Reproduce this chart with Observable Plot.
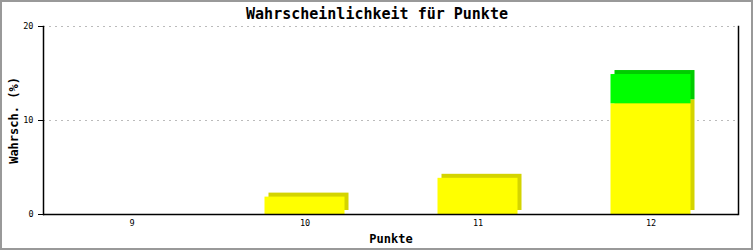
<!DOCTYPE html>
<html>
<head>
<meta charset="utf-8">
<script src="https://cdn.jsdelivr.net/npm/d3@7"></script>
<script src="https://cdn.jsdelivr.net/npm/@observablehq/plot@0.6"></script>
<style>
  html, body { margin: 0; padding: 0; background: #fff; }
  #chart svg { display: block; outline: 2px solid #999; outline-offset: -2px; }
</style>
</head>
<body>
<div id="chart"></div>
<script>
const title = "Wahrscheinlichkeit für Punkte";
const xLabel = "Punkte";
const yLabel = "Wahrsch. (%)";
const categories = ["9", "10", "11", "12"];
const yellowValues = [0, 1.85, 3.85, 11.78];
const greenValues = [0, 0, 0, 3.11];
const yTicks = [0, 10, 20];
const gridTicks = [10, 20];

const data = [];
categories.forEach((k, i) => data.push({k, s: "a", v: yellowValues[i]}));
categories.forEach((k, i) => data.push({k, s: "b", v: greenValues[i]}));

const font = "DejaVu Sans Mono";

const plot = Plot.plot({
  width: 753,
  height: 250,
  marginLeft: 43,
  marginRight: 15,
  marginTop: 26,
  marginBottom: 36,
  style: {fontFamily: font, background: "#fff", color: "#000"},
  x: {domain: categories, padding: 0, label: null},
  y: {domain: [0, 20], label: null},
  color: {type: "identity"},
  marks: [
    Plot.gridY(gridTicks, {stroke: "#bbb", strokeOpacity: 1, strokeDasharray: "2,4"}),
    Plot.barY(data, {x: "k", y: "v", fill: d => d.s === "a" ? "#d4d400" : "#00cc00",
      dx: 4, dy: -4, insetLeft: 46.5, insetRight: 46.5}),
    Plot.barY(data, {x: "k", y: "v", fill: d => d.s === "a" ? "#ffff00" : "#00ff00",
      insetLeft: 46.5, insetRight: 46.5}),
    Plot.ruleY([0], {stroke: "#000", strokeWidth: 1.5}),
    Plot.frame({anchor: "left", stroke: "#000", strokeWidth: 1.5}),
    Plot.frame({anchor: "right", stroke: "#000", strokeWidth: 1.5}),
    Plot.axisY(yTicks, {tickSize: 5, tickPadding: 5, fontSize: 8.5, label: null, stroke: "#000"}),
    Plot.axisX(categories, {tickSize: 0, tickPadding: 5, fontSize: 8.5, label: null}),
    Plot.text([title], {frameAnchor: "top", dx: -14, dy: -18, fontSize: 15, fontWeight: "bold", text: d => d}),
    Plot.text([xLabel], {frameAnchor: "bottom", dy: 28, fontSize: 12, fontWeight: "bold", text: d => d}),
    Plot.text([yLabel], {frameAnchor: "left", dx: -29, rotate: -90, textAnchor: "middle", fontSize: 12, fontWeight: "bold", text: d => d})
  ]
});
document.getElementById("chart").appendChild(plot);
</script>
</body>
</html>
